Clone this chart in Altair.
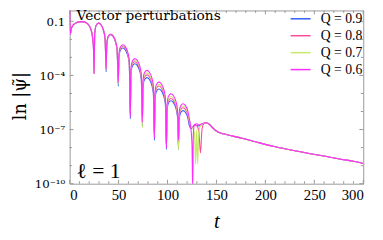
import altair as alt
import pandas as pd

SERIES = ["Q = 0.9", "Q = 0.8", "Q = 0.7", "Q = 0.6"]
COLORS = ["#2f5bff", "#ff4a9b", "#c5ea6b", "#ff2bff"]

# shared early part (all curves coincide)
T_HEAD = [0, 0.7, 1.5, 3, 6, 10, 13, 17, 20, 22.5, 24.2, 25]
E_HEAD = [0.0, -1.72, -1.45, -1.25, -1.1, -1.03, -1.02, -1.08, -1.25, -1.6, -2.3, -3.9]

# ringing part (log10 of |psi|), common time grid
T_OSC = [25.6, 27, 29.5, 32, 34.5, 36.2, 37.3,
         37.9, 39.3, 41.8, 44.3, 46.8, 48.5, 49.7,
         50.3, 51.7, 54.2, 56.7, 59.2, 60.9, 62,
         62.6, 64, 66.5, 69, 71.5, 73.2, 74.3,
         74.9, 76.3, 78.8, 81.3, 83.8, 85.5, 86.6,
         87.2, 88.6, 91.1, 93.6, 96.1, 97.8, 98.9,
         99.5, 100.9, 103.4, 105.9, 108.4, 110.1, 111.2,
         111.8, 113.2, 115.7, 118.2, 120.7, 122.4]

E_OSC_09 = [-1.68, -1.24, -1.10, -1.19, -1.49, -1.95, -3.8,
            -2.33, -1.89, -1.75, -1.84, -2.14, -2.60, -4.6,
            -3.06, -2.62, -2.48, -2.57, -2.87, -3.33, -6.4,
            -3.93, -3.49, -3.35, -3.44, -3.74, -4.20, -6.8,
            -4.70, -4.26, -4.12, -4.21, -4.51, -4.97, -7.6,
            -5.33, -4.89, -4.75, -4.84, -5.14, -5.60, -8.1,
            -5.98, -5.54, -5.40, -5.49, -5.79, -6.25, -8.1,
            -6.53, -6.09, -5.95, -6.04, -6.34, -6.80]
E_OSC_08 = [-1.68, -1.24, -1.10, -1.19, -1.49, -1.95, -3.6,
            -2.31, -1.87, -1.73, -1.82, -2.12, -2.58, -4.3,
            -2.98, -2.54, -2.40, -2.49, -2.79, -3.25, -6.1,
            -3.82, -3.38, -3.24, -3.33, -3.63, -4.09, -6.5,
            -4.55, -4.11, -3.97, -4.06, -4.36, -4.82, -7.2,
            -5.17, -4.73, -4.59, -4.68, -4.98, -5.44, -8.0,
            -5.86, -5.42, -5.28, -5.37, -5.67, -6.13, -7.9,
            -6.37, -5.93, -5.79, -5.88, -6.18, -6.64]
E_OSC_07 = [-1.68, -1.24, -1.10, -1.19, -1.49, -1.95, -3.7,
            -2.30, -1.86, -1.72, -1.81, -2.11, -2.57, -4.5,
            -2.93, -2.49, -2.35, -2.44, -2.74, -3.20, -6.0,
            -3.74, -3.30, -3.16, -3.25, -3.55, -4.01, -6.9,
            -4.44, -4.00, -3.86, -3.95, -4.25, -4.71, -7.3,
            -5.07, -4.63, -4.49, -4.58, -4.88, -5.34, -7.8,
            -5.75, -5.31, -5.17, -5.26, -5.56, -6.02, -8.1,
            -6.27, -5.83, -5.69, -5.78, -6.08, -6.54]
E_OSC_06 = [-1.68, -1.24, -1.10, -1.19, -1.49, -1.95, -3.66,
            -2.28, -1.84, -1.70, -1.79, -2.09, -2.55, -4.4,
            -2.88, -2.44, -2.30, -2.39, -2.69, -3.15, -6.3,
            -3.65, -3.21, -3.07, -3.16, -3.46, -3.92, -6.6,
            -4.30, -3.86, -3.72, -3.81, -4.11, -4.57, -7.5,
            -4.95, -4.51, -4.37, -4.46, -4.76, -5.22, -8.0,
            -5.60, -5.16, -5.02, -5.11, -5.41, -5.87, -7.6,
            -6.15, -5.71, -5.57, -5.66, -5.96, -6.42]

# transition region, per curve
T_END_09 = [124, 126, 128, 130, 132, 134, 137]
E_END_09 = [-6.95, -6.85, -6.72, -6.78, -6.8, -6.75, -6.68]
T_END_08 = [124, 126, 128, 130, 132, 133.7, 135.2, 137]
E_END_08 = [-6.9, -6.85, -6.75, -6.8, -7.1, -8.3, -7.0, -6.68]
T_END_07 = [124, 126, 127.5, 128.8, 129.8, 130.8, 132, 134, 137]
E_END_07 = [-6.85, -6.95, -7.2, -8.9, -7.0, -8.9, -7.1, -6.75, -6.65]
T_END_06 = [123.8, 125, 125.7, 126.4, 127.8, 130, 132, 134, 137]
E_END_06 = [-6.9, -7.8, -10.3, -7.2, -6.7, -6.68, -6.75, -6.7, -6.64]

# late-time tail (all curves coincide)
T_TAIL = [139.5, 143, 147, 151, 155, 160, 166, 176, 190, 209, 225, 242, 260, 276, 290, 300]
E_TAIL = [-6.62, -6.72, -6.95, -7.12, -7.2, -7.27, -7.35, -7.48, -7.68, -7.94, -8.12, -8.3,
          -8.47, -8.63, -8.76, -8.88]

X_MAJOR = [0, 50, 100, 150, 200, 250, 300]
X_MINOR = [10, 20, 30, 40, 60, 70, 80, 90, 110, 120, 130, 140, 160, 170, 180, 190,
           210, 220, 230, 240, 260, 270, 280, 290]
Y_MAJOR = [1e-1, 1e-4, 1e-7, 1e-10]
Y_MINOR = [1e-2, 1e-3, 1e-5, 1e-6, 1e-8, 1e-9]

parts = [
    (SERIES[0], T_END_09, E_END_09, E_OSC_09),
    (SERIES[1], T_END_08, E_END_08, E_OSC_08),
    (SERIES[2], T_END_07, E_END_07, E_OSC_07),
    (SERIES[3], T_END_06, E_END_06, E_OSC_06),
]
rows = []
for name, t_end, e_end, e_osc in parts:
    ts = T_HEAD + T_OSC + t_end + T_TAIL
    es = E_HEAD + e_osc + e_end + E_TAIL
    for t, e in zip(ts, es):
        rows.append({"t": t, "psi": 10.0 ** e, "Q": name})
df = pd.DataFrame(rows)

W, H = 300, 177
FONT = "Liberation Serif"
FONT2 = "DejaVu Serif"
GRAY = "#999999"

xscale = alt.Scale(domain=[0, 300], nice=False, zero=False)
yscale = alt.Scale(type="log", domain=[1e-10, 10 ** -0.4], nice=False)

xaxis = alt.Axis(values=X_MAJOR, title="t", ticks=False, domain=False, grid=False,
                 labelFont=FONT, labelFontSize=15, labelColor="black", labelPadding=4,
                 titleFont=FONT, titleFontSize=21, titleFontStyle="italic",
                 titleFontWeight="normal", titleColor="black",
                 titleBaseline="alphabetic", titleY=45)
yaxis = alt.Axis(values=Y_MAJOR, title="ln |ψ̃|", ticks=False, domain=False, grid=False,
                 labelFont=FONT2, labelFontSize=12, labelColor="black", labelPadding=5,
                 labelExpr="datum.value > 0.05 ? '0.1' : datum.value > 1e-5 ? '10⁻⁴' : datum.value > 1e-8 ? '10⁻⁷' : '10⁻¹⁰'",
                 titleFont=FONT2, titleFontSize=18, titleFontWeight="normal",
                 titleColor="black", titleX=-45, titleY=87, titleAlign="center",
                 titleBaseline="alphabetic", titleAngle=270)

lines = alt.Chart(df).mark_line(strokeWidth=1.1, clip=True, interpolate="monotone").encode(
    x=alt.X("t:Q", scale=xscale, axis=xaxis),
    y=alt.Y("psi:Q", scale=yscale, axis=yaxis),
    color=alt.Color("Q:N", scale=alt.Scale(domain=SERIES, range=COLORS),
                    sort=SERIES,
                    legend=alt.Legend(orient="none", legendX=226.5, legendY=-1, title=None,
                                      symbolType="M-1.2,0H1.2", symbolSize=289,
                                      symbolStrokeWidth=1.5, labelFont=FONT,
                                      labelFontSize=14, labelColor="black", labelOffset=11,
                                      rowPadding=0.3, padding=0)),
)

xmaj = pd.DataFrame({"t": X_MAJOR})
xmin = pd.DataFrame({"t": X_MINOR})
ymaj = pd.DataFrame({"psi": Y_MAJOR})
ymin = pd.DataFrame({"psi": Y_MINOR})

def xticks(data, length):
    bottom = alt.Chart(data).mark_rule(color=GRAY, strokeWidth=1).encode(
        x=alt.X("t:Q", scale=xscale, axis=xaxis), y=alt.value(H), y2=alt.value(H - length))
    top = alt.Chart(data).mark_rule(color=GRAY, strokeWidth=1).encode(
        x=alt.X("t:Q", scale=xscale, axis=xaxis), y=alt.value(0), y2=alt.value(length))
    return [bottom, top]

def yticks(data, length):
    left = alt.Chart(data).mark_rule(color=GRAY, strokeWidth=1).encode(
        y=alt.Y("psi:Q", scale=yscale, axis=yaxis), x=alt.value(0), x2=alt.value(length))
    right = alt.Chart(data).mark_rule(color=GRAY, strokeWidth=1).encode(
        y=alt.Y("psi:Q", scale=yscale, axis=yaxis), x=alt.value(W), x2=alt.value(W - length))
    return [left, right]

TITLE_TEXT = ["Vector perturbations"]
ELL_TEXT = ["ℓ = 1"]

title_txt = alt.Chart(pd.DataFrame({"label": TITLE_TEXT})).mark_text(
    align="left", baseline="alphabetic", font=FONT2, fontSize=14, color="black").encode(
    x=alt.value(7), y=alt.value(9.5), text="label:N")
ell_txt = alt.Chart(pd.DataFrame({"label": ELL_TEXT})).mark_text(
    align="left", baseline="alphabetic", font=FONT, fontSize=22, color="black").encode(
    x=alt.value(7), y=alt.value(171), text="label:N")

layers = ([lines] + xticks(xmaj, 4) + xticks(xmin, 2.5) + yticks(ymaj, 4) + yticks(ymin, 2.5)
          + [title_txt, ell_txt])

chart = alt.layer(*layers).properties(
    width=W, height=H,
    autosize=alt.AutoSizeParams(type="none"),
    padding={"left": 63, "top": 0, "right": 12, "bottom": 55},
).configure_view(stroke=GRAY, strokeWidth=1)

chart.save("out.html", embed_options={"renderer": "svg", "actions": False})
